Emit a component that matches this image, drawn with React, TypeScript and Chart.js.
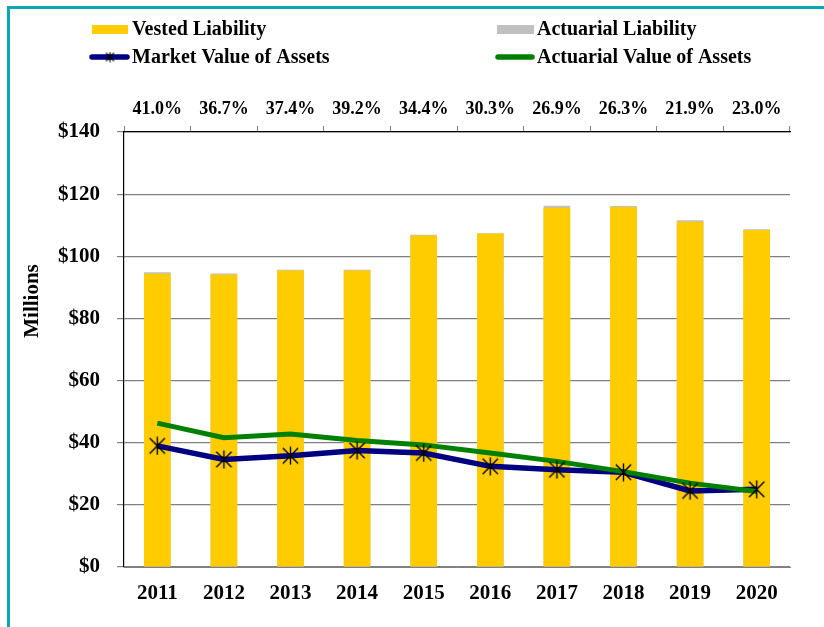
import React, { useEffect, useRef } from "react";
import { Chart, registerables } from "chart.js";

Chart.register(...registerables);

const years = ["2011", "2012", "2013", "2014", "2015", "2016", "2017", "2018", "2019", "2020"];
const fundedRatioLabels = ["41.0%", "36.7%", "37.4%", "39.2%", "34.4%", "30.3%", "26.9%", "26.3%", "21.9%", "23.0%"];
const vestedLiability = [94.4, 94.1, 95.4, 95.4, 106.7, 107.3, 115.6, 115.9, 111.1, 108.5];
const actuarialLiability = [94.9, 94.5, 95.7, 95.7, 106.9, 107.4, 116.3, 116.2, 111.6, 108.7];
const marketValueAssets = [39.0, 34.6, 35.8, 37.5, 36.7, 32.4, 31.3, 30.5, 24.5, 25.0];
const actuarialValueAssets = [46.3, 41.6, 42.8, 40.7, 39.3, 36.7, 34.0, 30.7, 27.0, 24.3];

const FONT = '"Liberation Serif", "Times New Roman", serif';
const YELLOW = "#FFCC00";
const GRAY = "#C0C0C0";
const NAVY = "#000080";
const GREEN = "#008000";

function makeAsterisk(size: number, lw: number, frac: number): HTMLCanvasElement {
  const c = document.createElement("canvas");
  c.width = size;
  c.height = size;
  const ctx = c.getContext("2d")!;
  ctx.strokeStyle = "#000";
  ctx.lineWidth = lw;
  const m = size / 2;
  const r = size / 2 - 0.5;
  const d = r * frac;
  ctx.beginPath();
  ctx.moveTo(m, m - r);
  ctx.lineTo(m, m + r);
  ctx.moveTo(m - d, m - d);
  ctx.lineTo(m + d, m + d);
  ctx.moveTo(m + d, m - d);
  ctx.lineTo(m - d, m + d);
  ctx.stroke();
  return c;
}

const overlayPlugin = {
  id: "overlay",
  afterDraw(chart: any) {
    const ctx = chart.ctx as CanvasRenderingContext2D;
    const ds = chart.data.datasets;
    ctx.save();
    ctx.font = `bold 20px ${FONT}`;
    ctx.textAlign = "left";
    ctx.textBaseline = "alphabetic";
    // row 1: bar swatches
    ctx.fillStyle = ds[0].backgroundColor;
    ctx.fillRect(92, 25, 36, 9);
    ctx.fillStyle = "#000";
    ctx.fillText(ds[0].label, 132, 35);
    ctx.fillStyle = ds[1].backgroundColor;
    ctx.fillRect(497, 25, 37, 9);
    ctx.fillStyle = "#000";
    ctx.fillText(ds[1].label, 537, 35);
    // row 2: line swatches
    ctx.lineCap = "round";
    ctx.lineWidth = 5.5;
    ctx.strokeStyle = ds[2].borderColor;
    ctx.beginPath();
    ctx.moveTo(92, 57);
    ctx.lineTo(127, 57);
    ctx.stroke();
    const small = makeAsterisk(11, 1.2, 0.8);
    ctx.drawImage(small, 110 - 5.5, 57 - 5.5);
    ctx.fillStyle = "#000";
    ctx.fillText(ds[2].label, 132, 63);
    ctx.strokeStyle = ds[3].borderColor;
    ctx.beginPath();
    ctx.moveTo(498, 57);
    ctx.lineTo(532, 57);
    ctx.stroke();
    ctx.fillStyle = "#000";
    ctx.fillText(ds[3].label, 537, 63);
    // y-axis title
    ctx.font = `bold 21px ${FONT}`;
    ctx.translate(38, 301);
    ctx.rotate(-Math.PI / 2);
    ctx.textAlign = "center";
    ctx.fillText("Millions", 0, 0);
    ctx.restore();
  },
};

export default function App() {
  const ref = useRef<HTMLCanvasElement | null>(null);

  useEffect(() => {
    if (!ref.current) return;
    const marker = makeAsterisk(19, 1.4, 0.85);
    const tickFont = (size: number) => ({ family: FONT, size, weight: "bold" as const });
    const chart = new Chart(ref.current, {
      type: "bar",
      data: {
        labels: years,
        datasets: [
          {
            type: "bar",
            label: "Vested Liability",
            data: vestedLiability,
            backgroundColor: YELLOW,
            grouped: false,
            barPercentage: 0.4,
            categoryPercentage: 1,
            order: 3,
          } as any,
          {
            type: "bar",
            label: "Actuarial Liability",
            data: actuarialLiability,
            backgroundColor: GRAY,
            grouped: false,
            barPercentage: 0.4,
            categoryPercentage: 1,
            order: 4,
          } as any,
          {
            type: "line",
            label: "Market Value of Assets",
            data: marketValueAssets,
            borderColor: NAVY,
            backgroundColor: NAVY,
            borderWidth: 5.5,
            pointRadius: 0,
            tension: 0,
            order: 2,
          } as any,
          {
            type: "line",
            label: "Actuarial Value of Assets",
            data: actuarialValueAssets,
            borderColor: GREEN,
            backgroundColor: GREEN,
            borderWidth: 5,
            pointRadius: 0,
            tension: 0,
            order: 1,
          } as any,
          {
            type: "line",
            label: "markers",
            data: marketValueAssets,
            showLine: false,
            pointStyle: marker,
            pointRadius: 9,
            borderColor: "#000",
            backgroundColor: "#000",
            order: 0,
          } as any,
        ],
      },
      options: {
        responsive: false,
        animation: false,
        devicePixelRatio: 1,
        layout: { padding: { top: 100, bottom: 0, left: 0, right: 34 } },
        plugins: {
          legend: { display: false },
          tooltip: { enabled: false },
          title: { display: false },
        },
        scales: {
          x: {
            type: "category",
            position: "bottom",
            offset: true,
            grid: { display: false, drawTicks: false, offset: true },
            border: { display: true, color: "#808080", width: 1 },
            ticks: {
              font: tickFont(21),
              color: "#000",
              padding: 14,
              maxRotation: 0,
              autoSkip: false,
            },
            afterFit: (s: any) => {
              s.height = 60;
            },
          },
          x2: {
            type: "category",
            position: "top",
            labels: fundedRatioLabels,
            offset: true,
            grid: {
              offset: true,
              drawOnChartArea: false,
              drawTicks: true,
              tickLength: 6,
              color: "#808080",
            },
            border: { display: true, color: "#000", width: 1.2 },
            ticks: {
              font: tickFont(18),
              color: "#000",
              padding: 5.5,
              maxRotation: 0,
              autoSkip: false,
            },
            afterFit: (s: any) => {
              s.height = 32;
            },
          },
          y: {
            min: 0,
            max: 140,
            ticks: {
              stepSize: 20,
              callback: (v: any) => "$" + v,
              font: tickFont(21),
              color: "#000",
              padding: 17,
            },
            grid: { color: "#808080", tickLength: 7, drawTicks: true, lineWidth: 1.2 },
            border: { display: true, color: "#000", width: 1.2 },
            afterFit: (s: any) => {
              s.width = 124;
            },
          },
        },
      } as any,
      plugins: [overlayPlugin],
    });
    return () => chart.destroy();
  }, []);

  return (
    <div
      style={{
        position: "fixed",
        left: 0,
        top: 0,
        width: 824,
        height: 627,
        background: "#fff",
        overflow: "hidden",
      }}
    >
      <div
        style={{
          position: "absolute",
          left: 7,
          top: 6,
          width: 900,
          height: 700,
          border: "3px solid #0AA8B7",
          boxSizing: "border-box",
        }}
      />
      <canvas
        ref={ref}
        width={824}
        height={627}
        style={{ position: "absolute", left: 0, top: 0, width: 824, height: 627 }}
      />
    </div>
  );
}
